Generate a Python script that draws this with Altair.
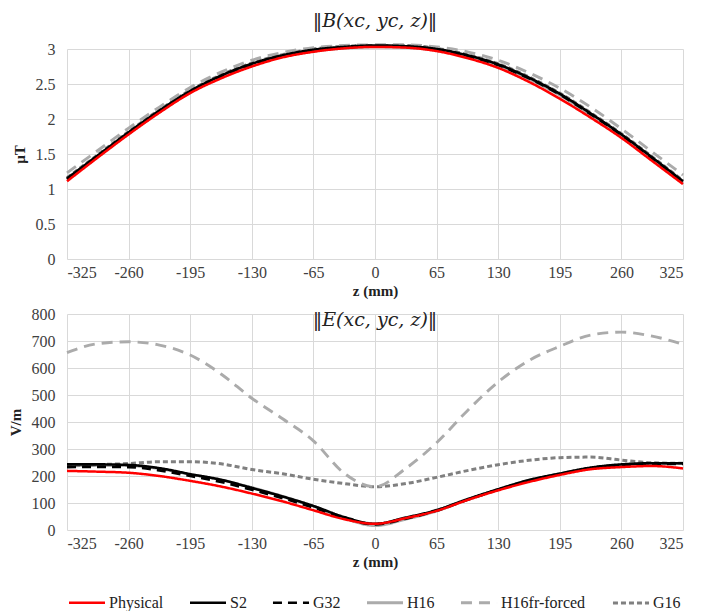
import altair as alt
import pandas as pd

z = [-325, -292.5, -260, -227.5, -195, -162.5, -130, -97.5, -65, -32.5, 0,
     32.5, 65, 97.5, 130, 162.5, 195, 227.5, 260, 292.5, 325]

series = ["Physical", "S2", "G32", "H16", "H16fr-forced", "G16"]
colors = ["#FF0000", "#000000", "#000000", "#ABABAB", "#ABABAB", "#808080"]
dashes = [[1, 0], [1, 0], [9, 6], [1, 0], [11, 7], [5, 3]]
widths = [2.5, 3, 3, 3, 3, 2.5]
draw_order = ["H16", "G16", "H16fr-forced", "G32", "S2", "Physical"]

# Magnetic flux density |B| (µT)
B = {
    "Physical":     [1.11, 1.45, 1.78, 2.09, 2.37, 2.58, 2.75, 2.88, 2.96, 3.01, 3.03,
                     3.02, 2.97, 2.87, 2.73, 2.53, 2.29, 2.02, 1.73, 1.40, 1.07],
    "S2":           [1.15, 1.48, 1.81, 2.12, 2.40, 2.62, 2.79, 2.91, 2.99, 3.03, 3.05,
                     3.04, 3.00, 2.91, 2.78, 2.59, 2.36, 2.08, 1.78, 1.45, 1.11],
    "G32":          [1.14, 1.47, 1.80, 2.11, 2.39, 2.61, 2.78, 2.90, 2.98, 3.02, 3.04,
                     3.03, 2.99, 2.90, 2.77, 2.58, 2.35, 2.07, 1.77, 1.44, 1.10],
    "H16":          [1.13, 1.46, 1.79, 2.10, 2.38, 2.60, 2.77, 2.89, 2.97, 3.01, 3.03,
                     3.02, 2.98, 2.89, 2.76, 2.57, 2.34, 2.06, 1.76, 1.43, 1.09],
    "H16fr-forced": [1.23, 1.55, 1.87, 2.17, 2.45, 2.67, 2.84, 2.95, 3.02, 3.05, 3.06,
                     3.06, 3.03, 2.96, 2.84, 2.66, 2.44, 2.17, 1.86, 1.53, 1.20],
    "G16":          [1.16, 1.49, 1.82, 2.13, 2.41, 2.63, 2.80, 2.92, 3.00, 3.04, 3.05,
                     3.05, 3.01, 2.92, 2.79, 2.60, 2.37, 2.09, 1.79, 1.46, 1.12],
}

# Electric field |E| (V/m)
E = {
    "Physical":     [219, 216, 212, 200, 182, 161, 135, 106, 73, 40, 23,
                     44, 71, 111, 147, 178, 204, 225, 233, 237, 228],
    "S2":           [243, 243, 241, 229, 207, 186, 156, 124, 89, 48, 23,
                     46, 74, 114, 151, 185, 209, 231, 243, 247, 247],
    "G32":          [233, 234, 233, 221, 200, 178, 149, 118, 83, 44, 21,
                     42, 72, 112, 149, 182, 207, 229, 241, 245, 245],
    "H16":          [238, 239, 238, 227, 206, 186, 157, 125, 88, 44, 16,
                     40, 70, 112, 150, 184, 208, 229, 240, 245, 246],
    "H16fr-forced": [657, 690, 697, 685, 648, 578, 488, 412, 330, 210, 160,
                     228, 323, 442, 548, 628, 680, 722, 733, 718, 688],
    "G16":          [237, 242, 246, 253, 253, 245, 224, 208, 188, 172, 160,
                     172, 195, 220, 242, 258, 268, 270, 259, 249, 247],
}

x_ticks = [-325, -260, -195, -130, -65, 0, 65, 130, 195, 260, 325]

rows = []
for s in series:
    for i, zz in enumerate(z):
        rows.append({"z": zz, "series": s, "B": B[s][i], "E": E[s][i]})
df = pd.DataFrame(rows)

FONT = "Liberation Serif"
TFONT = "DejaVu Serif"

legend = alt.Legend(title=None, labelFont=FONT, labelFontSize=16,
                    labelColor="#222222", orient="bottom",
                    direction="horizontal", columns=6,
                    symbolType="stroke", symbolSize=1300, symbolStrokeWidth=3,
                    columnPadding=20, labelOffset=2, offset=14)

color_enc = alt.Color("series:N", scale=alt.Scale(domain=series, range=colors),
                      legend=legend)
dash_enc = alt.StrokeDash("series:N", scale=alt.Scale(domain=series, range=dashes),
                          legend=legend)
width_enc = alt.StrokeWidth("series:N", scale=alt.Scale(domain=series, range=widths),
                            legend=legend)


def panel(field, ymax, ystep, ytitle, title, height, title_offset):
    yvals = []
    v = 0
    while v <= ymax + 1e-9:
        yvals.append(round(v, 2))
        v += ystep
    base = alt.Chart(df).mark_line(interpolate="monotone").encode(
        x=alt.X("z:Q", scale=alt.Scale(domain=[-325, 325], nice=False, zero=False),
                axis=alt.Axis(values=x_ticks, title="z (mm)",
                              labelExpr="datum.value + ''",
                              labelFont=FONT, titleFont=FONT,
                              labelPadding=5, titlePadding=3)),
        y=alt.Y(f"{field}:Q", scale=alt.Scale(domain=[0, ymax], nice=False),
                axis=alt.Axis(values=yvals, title=ytitle,
                              labelExpr="datum.value + ''",
                              labelFont=FONT, titleFont=FONT,
                              labelPadding=12, titlePadding=8)),
        color=color_enc,
        strokeDash=dash_enc,
        strokeWidth=width_enc,
    )
    layers = [base.transform_filter(alt.datum.series == s) for s in draw_order]
    return alt.layer(*layers).properties(
        width=616, height=height,
        title=alt.TitleParams(title, font=TFONT, fontSize=19, fontStyle="italic",
                              fontWeight="normal", color="#222222",
                              anchor="middle", offset=title_offset),
    )


top = panel("B", 3, 0.5, "µT", "‖B(xc, yc, z)‖", 210, 8)
bottom = panel("E", 800, 100, "V/m", "‖E(xc, yc, z)‖", 216, -24)

chart = alt.vconcat(top, bottom, spacing=8).properties(
    padding={"left": 0, "top": 4, "right": 4, "bottom": 0}
).configure_axis(
    labelFontSize=16, labelColor="#404040",
    titleFontSize=15, titleFontWeight="bold", titleColor="#222222",
    gridColor="#D9D9D9", gridWidth=1, domain=False, ticks=False,
).configure_view(stroke=None)

chart.save("out.html", embed_options={"renderer": "svg", "actions": False})
